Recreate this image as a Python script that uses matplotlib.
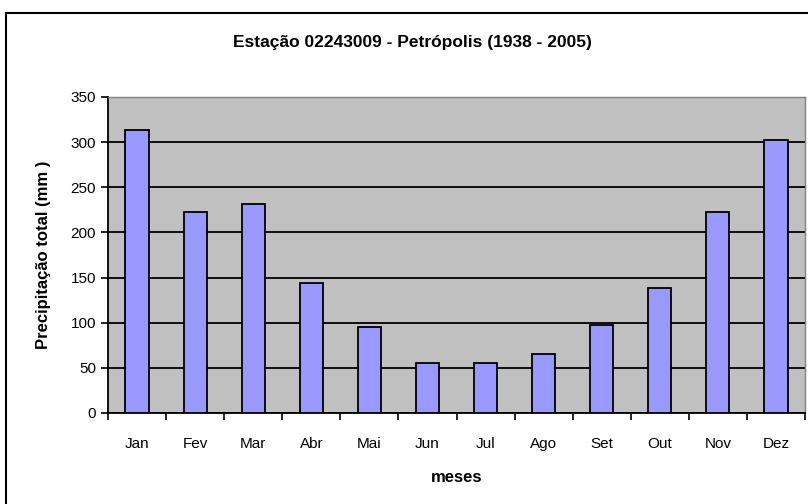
import numpy as np
import matplotlib.pyplot as plt
from matplotlib.lines import Line2D

months = ["Jan", "Fev", "Mar", "Abr", "Mai", "Jun", "Jul", "Ago", "Set", "Out", "Nov", "Dez"]
precip = [313, 223, 232, 144, 95, 55, 55, 65, 98, 139, 223, 302]

plt.rcParams['font.family'] = ['Liberation Sans', 'DejaVu Sans']

fig = plt.figure(figsize=(8.08, 5.04), dpi=100)
ax = fig.add_axes([108 / 808, 91 / 504, 697 / 808, 316 / 504])

x = np.arange(len(months))
ax.set_facecolor("#C0C0C0")
ax.bar(x, precip, width=0.4, color="#9999FF", edgecolor="black", linewidth=1.3, zorder=3)

ax.set_ylim(0, 350)
ax.set_xlim(-0.5, len(months) - 0.5)
ax.set_yticks(np.arange(0, 351, 50))
ax.yaxis.grid(True, color="black", linewidth=1.3, zorder=1)
ax.set_axisbelow(True)

ax.set_xticks(x)
ax.set_xticklabels(months)
ax.set_xticks(np.arange(-0.5, len(months), 1), minor=True)
ax.tick_params(axis="x", which="major", length=0, pad=17, labelsize=11)
ax.tick_params(axis="x", which="minor", length=5, width=1.2, direction="out")
ax.tick_params(axis="y", length=5, width=1.2, direction="out", labelsize=11)

for s in ["top", "right"]:
    ax.spines[s].set_color("#808080")
    ax.spines[s].set_linewidth(1)
ax.spines["left"].set_linewidth(1.3)
ax.spines["bottom"].set_linewidth(1.3)

fig.text(412 / 808, 1 - 42 / 504, "Estação 02243009 - Petrópolis (1938 - 2005)",
         fontsize=12.5, fontweight="bold", ha="center", va="center")
ax.set_xlabel("meses", fontsize=12, fontweight="bold", labelpad=14)
ax.set_ylabel("Precipitação total (mm )", fontsize=12, fontweight="bold", labelpad=14)

# chart area border (cut off at right and bottom)
fig.add_artist(Line2D([6 / 808, 1.0], [1 - 13 / 504, 1 - 13 / 504], color="black", linewidth=1.5))
fig.add_artist(Line2D([6 / 808, 6 / 808], [0.0, 1 - 13 / 504], color="black", linewidth=1.5))

fig.savefig("out.png", dpi=100)
